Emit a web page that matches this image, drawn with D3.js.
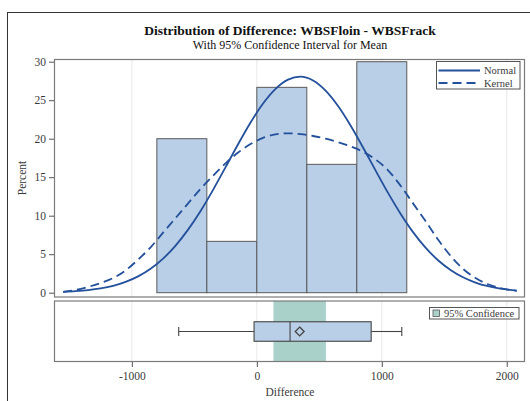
<!DOCTYPE html>
<html>
<head>
<meta charset="utf-8">
<script src="https://cdn.jsdelivr.net/npm/d3@7"></script>
<style>
  html, body { margin: 0; padding: 0; background: #fff; }
  svg { display: block; font-family: "Liberation Serif", "Times New Roman", serif; }
</style>
</head>
<body>
<svg id="chart" width="530" height="401"></svg>
<script>
// ---------- data ----------
const binStarts = [-800, -400, 0, 400, 800];
const binWidth = 400;
const binPercents = [20, 6.67, 26.67, 16.67, 30];

const curveX = [-1550,-1450,-1350,-1250,-1150,-1050,-950,-850,-750,-650,-550,-450,-350,-250,-150,-50,
                50,150,250,350,450,550,650,750,850,950,1050,1150,1250,1350,1450,1550,1650,1750,1850,1950,2080];
const normalY = [0.11,0.20,0.34,0.56,0.90,1.40,2.12,3.11,4.43,6.12,8.19,10.62,13.36,16.30,19.28,22.10,
                 24.57,26.48,27.68,28.05,27.56,26.25,24.25,21.72,18.86,15.88,12.96,10.26,7.87,5.86,4.22,2.96,2.01,1.32,0.84,0.52,0.27];
const kernelY = [0.10,0.35,0.75,1.25,1.90,2.90,4.30,5.90,7.80,9.70,11.60,13.50,15.20,16.80,18.20,19.30,
                 20.10,20.55,20.70,20.60,20.35,20.00,19.55,19.00,18.30,17.30,15.90,13.90,11.60,9.30,6.90,4.80,3.10,1.90,1.10,0.60,0.25];

const boxStats = { min: -625, q1: -22, median: 266, mean: 343, q3: 915, max: 1160 };
const ciMean = [133, 553];

const xTicks = [-1000, 0, 1000, 2000];
const yTicks = [0, 5, 10, 15, 20, 25, 30];

const titleText = "Distribution of Difference: WBSFloin - WBSFrack";
const subtitleText = "With 95% Confidence Interval for Mean";
const legendLabels = ["Normal", "Kernel"];
const ciLabel = "95% Confidence";

// ---------- layout ----------
const svg = d3.select("#chart");
const plotL = 54.5, plotR = 524.5;
const topT = 59.5, topB = 297;
const botT = 301, botB = 361.5;

const x = d3.scaleLinear().domain([-1619, 2142]).range([plotL, plotR]);
const y = d3.scaleLinear().domain([0, 30]).range([292.7, 61.7]);

const barFill = "#b9cee7", barStroke = "#5a5a5a";
const curveColor = "#23509b";
const ciColor = "#a9d1ca";
const frameColor = "#7a7a7a";
const textColor = "#3a3a3a";

// outer border
svg.append("rect").attr("x", 7.5).attr("y", 12.5).attr("width", 700).attr("height", 700)
  .attr("fill", "none").attr("stroke", "#333").attr("stroke-width", 1);

// titles
svg.append("text").attr("x", 290).attr("y", 35).attr("text-anchor", "middle")
  .attr("font-size", 13.5).attr("font-weight", "bold").attr("fill", "#111").text(titleText);
svg.append("text").attr("x", 290).attr("y", 48.5).attr("text-anchor", "middle")
  .attr("font-size", 12).attr("fill", "#111").text(subtitleText);

// grid lines
[[topT, topB], [botT, botB]].forEach(([t, b]) => {
  svg.append("g").selectAll("line").data(xTicks).join("line")
    .attr("x1", d => x(d)).attr("x2", d => x(d)).attr("y1", t).attr("y2", b)
    .attr("stroke", "#e8e8e8").attr("stroke-width", 1);
});

// histogram bars
svg.append("g").selectAll("rect").data(binStarts).join("rect")
  .attr("x", (d) => x(d))
  .attr("y", (d, i) => y(binPercents[i]))
  .attr("width", d => x(d + binWidth) - x(d))
  .attr("height", (d, i) => y(0) - y(binPercents[i]))
  .attr("fill", barFill).attr("stroke", barStroke).attr("stroke-width", 1);

// curves
const line = d3.line().x((d, i) => x(curveX[i])).y(d => y(d)).curve(d3.curveMonotoneX);
svg.append("path").attr("d", line(normalY)).attr("fill", "none")
  .attr("stroke", curveColor).attr("stroke-width", 1.8);
svg.append("path").attr("d", line(kernelY)).attr("fill", "none")
  .attr("stroke", curveColor).attr("stroke-width", 1.8).attr("stroke-dasharray", "9,5");

// top frame
svg.append("rect").attr("x", plotL).attr("y", topT).attr("width", plotR - plotL).attr("height", topB - topT)
  .attr("fill", "none").attr("stroke", frameColor).attr("stroke-width", 1.2);

// y axis
const yAxis = d3.axisLeft(y).tickValues(yTicks).tickSize(5).tickPadding(3).tickFormat(d => String(d));
const gy = svg.append("g").attr("transform", `translate(${plotL - 0.5},0)`).call(yAxis);
gy.select(".domain").remove();
gy.selectAll("line").attr("stroke", "#555");
gy.selectAll("text").attr("font-size", 11.5).attr("fill", textColor)
  .attr("font-family", "Liberation Serif, serif");

svg.append("text").attr("transform", "translate(26,178) rotate(-90)").attr("text-anchor", "middle")
  .attr("font-size", 11.5).attr("fill", textColor).text("Percent");

// legend (top)
const lg = svg.append("g");
lg.append("rect").attr("x", 436.5).attr("y", 61.5).attr("width", 83.5).attr("height", 27.5)
  .attr("fill", "#fff").attr("stroke", "#555").attr("stroke-width", 1);
lg.append("line").attr("x1", 438.5).attr("x2", 480).attr("y1", 70.5).attr("y2", 70.5)
  .attr("stroke", curveColor).attr("stroke-width", 1.8);
lg.append("line").attr("x1", 438.5).attr("x2", 480).attr("y1", 83).attr("y2", 83)
  .attr("stroke", curveColor).attr("stroke-width", 1.8).attr("stroke-dasharray", "9,5");
lg.selectAll("text").data(legendLabels).join("text")
  .attr("x", 484).attr("y", (d, i) => 74 + i * 12.5)
  .attr("font-size", 10.5).attr("fill", textColor).text(d => d);

// bottom panel: CI band
svg.append("rect").attr("x", x(ciMean[0])).attr("y", botT).attr("width", x(ciMean[1]) - x(ciMean[0]))
  .attr("height", botB - botT).attr("fill", ciColor);

// box plot
const cy = 331.5, bh = 19.5;
const bp = svg.append("g").attr("stroke", "#444").attr("stroke-width", 1.1);
bp.append("line").attr("x1", x(boxStats.min)).attr("x2", x(boxStats.q1)).attr("y1", cy).attr("y2", cy);
bp.append("line").attr("x1", x(boxStats.q3)).attr("x2", x(boxStats.max)).attr("y1", cy).attr("y2", cy);
bp.append("line").attr("x1", x(boxStats.min)).attr("x2", x(boxStats.min)).attr("y1", cy - 4.5).attr("y2", cy + 4.5);
bp.append("line").attr("x1", x(boxStats.max)).attr("x2", x(boxStats.max)).attr("y1", cy - 4.5).attr("y2", cy + 4.5);
bp.append("rect").attr("x", x(boxStats.q1)).attr("y", cy - bh / 2).attr("width", x(boxStats.q3) - x(boxStats.q1))
  .attr("height", bh).attr("fill", barFill);
bp.append("line").attr("x1", x(boxStats.median)).attr("x2", x(boxStats.median)).attr("y1", cy - bh / 2).attr("y2", cy + bh / 2);
bp.append("path").attr("d", d3.symbol().type(d3.symbolDiamond2 || d3.symbolDiamond).size(50)())
  .attr("transform", `translate(${x(boxStats.mean)},${cy})`).attr("fill", "none").attr("stroke-width", 1.3);

// bottom frame
svg.append("rect").attr("x", plotL).attr("y", botT).attr("width", plotR - plotL).attr("height", botB - botT)
  .attr("fill", "none").attr("stroke", frameColor).attr("stroke-width", 1.2);

// bottom legend
const lg2 = svg.append("g");
lg2.append("rect").attr("x", 429.5).attr("y", 307.5).attr("width", 89.5).attr("height", 11.5)
  .attr("fill", "#fff").attr("stroke", "#555").attr("stroke-width", 1);
lg2.append("rect").attr("x", 433).attr("y", 310).attr("width", 6.5).attr("height", 6.5)
  .attr("fill", ciColor).attr("stroke", "#555").attr("stroke-width", 0.8);
lg2.append("text").attr("x", 444).attr("y", 317.2).attr("font-size", 10.5).attr("fill", textColor).text(ciLabel);

// x axis
const xAxis = d3.axisBottom(x).tickValues(xTicks).tickSize(5).tickPadding(5).tickFormat(d => String(d));
const gx = svg.append("g").attr("transform", `translate(0,${botB + 0.5})`).call(xAxis);
gx.select(".domain").remove();
gx.selectAll("line").attr("stroke", "#555");
gx.selectAll("text").attr("font-size", 11.5).attr("fill", textColor)
  .attr("font-family", "Liberation Serif, serif");

svg.append("text").attr("x", 290).attr("y", 396).attr("text-anchor", "middle")
  .attr("font-size", 11.5).attr("fill", textColor).text("Difference");
</script>
</body>
</html>
